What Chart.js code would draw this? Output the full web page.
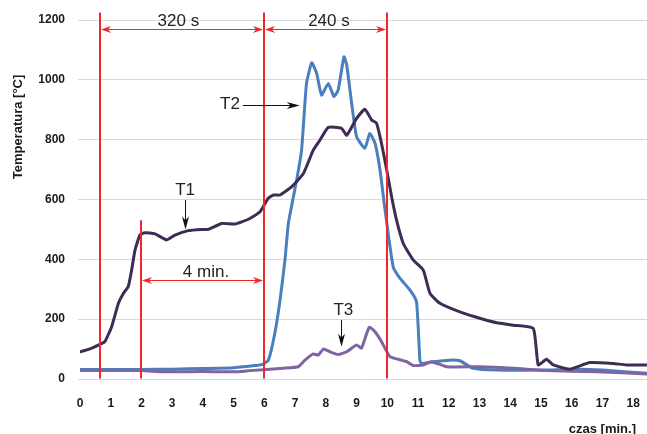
<!DOCTYPE html>
<html><head><meta charset="utf-8">
<script src="https://cdn.jsdelivr.net/npm/chart.js@4"></script>
<style>html,body{margin:0;padding:0;background:#fff;overflow:hidden}</style>
</head><body>
<canvas id="c" width="647" height="434"></canvas>
<script>
// ---- data (time in minutes, temperature in °C) ----
const t1Time = [0,0.3,0.65,0.81,1.03,1.25,1.41,1.57,1.68,1.79,1.95,2.11,2.44,2.82,3.09,3.52,3.96,4.17,4.61,5.04,5.48,5.86,6.13,6.3,6.51,6.89,7.27,7.59,7.81,8.08,8.51,8.68,9.0,9.27,9.49,9.65,9.81,9.98,10.14,10.3,10.52,10.84,11.17,11.39,11.71,12.47,13.01,13.56,14.1,14.75,14.91,15.18,15.4,15.94,16.59,17.35,17.78,18.45];
const t1Temp = [91,100,116,125,175,253,286,309,364,431,481,489,485,465,481,496,500,500,520,518,534,559,605,615,615,643,687,765,799,841,838,815,871,902,866,855,788,699,609,531,453,398,364,286,253,220,203,188,180,169,47,66,47,33,55,52,47,47];

const t2Time = [0,2,3,4,5,5.7,5.96,6.13,6.34,6.51,6.67,6.78,7.05,7.21,7.37,7.54,7.7,7.86,8.08,8.26,8.4,8.59,8.68,8.84,9.0,9.27,9.43,9.6,9.76,9.92,10.19,10.41,10.74,10.95,11.06,11.11,11.49,12.04,12.36,12.79,13.56,15,16.27,17,18.45];
const t2Temp = [32,32,33,35,38,45,50,63,153,264,398,520,665,765,988,1057,1022,949,988,944,966,1077,1049,921,810,771,821,788,700,570,375,337,297,258,63,52,58,63,61,36,30,30,33,30,19];

const t3Time = [0,2,2.7,4,5,5.53,6.61,7.1,7.32,7.59,7.75,7.92,8.13,8.4,8.68,9.0,9.16,9.41,9.6,9.81,10.08,10.35,10.63,10.84,11.17,11.44,11.93,13.0,14.1,15.18,16.8,18.45];
const t3Temp = [28,28,24,25,24,28,36,41,63,84,80,100,91,82,91,114,103,173,158,125,75,66,58,45,47,58,41,41,36,28,24,17];

const seriesNames = ['T1','T2','T3'];
const yTickValues = [0,200,400,600,800,1000,1200];
const xTickValues = [0,1,2,3,4,5,6,7,8,9,10,11,12,13,14,15,16,17,18];
const markerTimes = [0.667, 2, 6, 10];          // red vertical lines (min)
const intervalTexts = ['320 s', '240 s', '4 min.'];
const xTitle = 'czas [min.]';
const yTitle = 'Temperatura [°C]';

const pts = (xs, ys) => xs.map((x, i) => ({x, y: ys[i]}));

const RED = '#f0282a';
const FONT = '"Liberation Sans", Arial, sans-serif';

function arrowHead(ctx, x, y, ang, len, w) {
  ctx.save();
  ctx.translate(x, y); ctx.rotate(ang);
  ctx.beginPath();
  ctx.moveTo(0, 0);
  ctx.lineTo(-len, -w / 2);
  ctx.lineTo(-len * 0.7, 0);
  ctx.lineTo(-len, w / 2);
  ctx.closePath();
  ctx.fill();
  ctx.restore();
}

const annot = {
  id: 'annot',
  afterDatasetsDraw(chart) {
    const {ctx, scales: {x, y}} = chart;
    const X = v => x.getPixelForValue(v), Y = v => y.getPixelForValue(v);
    ctx.save();
    // red vertical lines
    ctx.strokeStyle = RED; ctx.fillStyle = RED; ctx.lineWidth = 2;
    const tops = [1225, 531, 1225, 1225];
    markerTimes.forEach((t, i) => {
      const px = Math.round(X(t));
      ctx.beginPath(); ctx.moveTo(px, Y(2)); ctx.lineTo(px, Y(tops[i])); ctx.stroke();
    });
    // double arrows
    ctx.lineWidth = 1;
    const dbl = (a, b, v) => {
      const x1 = Math.round(X(a)) + 1, x2 = Math.round(X(b)) - 1, py = Math.round(Y(v)) + 0.5;
      ctx.beginPath(); ctx.moveTo(x1 + 4, py); ctx.lineTo(x2 - 4, py); ctx.stroke();
      arrowHead(ctx, x1, py, Math.PI, 10, 7);
      arrowHead(ctx, x2, py, 0, 10, 7);
    };
    dbl(markerTimes[0], markerTimes[2], 1169);
    dbl(markerTimes[2], markerTimes[3], 1169);
    dbl(markerTimes[1], markerTimes[2], 331);
    // interval texts
    ctx.fillStyle = '#222';
    ctx.font = '17px ' + FONT;
    ctx.textAlign = 'center'; ctx.textBaseline = 'middle';
    ctx.fillText(intervalTexts[0], X(3.2), Y(1197));
    ctx.fillText(intervalTexts[1], X(8.1), Y(1197));
    ctx.fillText(intervalTexts[2], X(4.1), Y(358));
    // series labels with black arrows
    ctx.fillText(seriesNames[0], X(3.42), Y(630));
    ctx.fillText(seriesNames[1], X(4.88), Y(918));
    ctx.fillText(seriesNames[2], X(8.57), Y(230));
    ctx.strokeStyle = '#111'; ctx.fillStyle = '#111'; ctx.lineWidth = 1;
    // T1 arrow (down)
    let ax = Math.round(X(3.42)) + 0.5;
    ctx.beginPath(); ctx.moveTo(ax, Y(598)); ctx.lineTo(ax, Y(520)); ctx.stroke();
    arrowHead(ctx, ax, Y(500), Math.PI / 2, 13, 7);
    // T2 arrow (right)
    let ay = Math.round(Y(915)) + 0.5;
    ctx.beginPath(); ctx.moveTo(X(5.3), ay); ctx.lineTo(X(7.1), ay); ctx.stroke();
    arrowHead(ctx, X(7.15), ay, 0, 13, 7);
    // T3 arrow (down)
    ax = Math.round(X(8.5)) + 0.5;
    ctx.beginPath(); ctx.moveTo(ax, Y(197)); ctx.lineTo(ax, Y(125)); ctx.stroke();
    arrowHead(ctx, ax, Y(108), Math.PI / 2, 13, 7);
    // axis titles
    ctx.fillStyle = '#1a1a1a';
    ctx.font = 'bold 13px ' + FONT;
    ctx.textAlign = 'right'; ctx.textBaseline = 'middle';
    ctx.fillText(xTitle, 636, 429);
    ctx.translate(18, 127); ctx.rotate(-Math.PI / 2);
    ctx.textAlign = 'center';
    ctx.fillText(yTitle, 0, 0);
    ctx.restore();
  }
};

new Chart(document.getElementById('c'), {
  type: 'line',
  data: {
    datasets: [
      {label: seriesNames[0], data: pts(t1Time, t1Temp), borderColor: '#3f2c55', order: 0},
      {label: seriesNames[2], data: pts(t3Time, t3Temp), borderColor: '#8063a3', order: 1},
      {label: seriesNames[1], data: pts(t2Time, t2Temp), borderColor: '#4a7fbd', order: 2}
    ]
  },
  options: {
    responsive: false,
    animation: false,
    layout: {padding: {top: 20, right: 0, left: 0, bottom: 0}},
    elements: {
      point: {radius: 0},
      line: {borderWidth: 3, tension: 0.15, fill: false, borderJoinStyle: 'round', borderCapStyle: 'round'}
    },
    plugins: {legend: {display: false}, tooltip: {enabled: false}},
    scales: {
      x: {
        type: 'linear', min: 0, max: 18.45,
        afterBuildTicks: s => { s.ticks = xTickValues.map(v => ({value: v})); },
        afterFit: s => { s.height = 55; s.paddingLeft = 0; s.paddingRight = 0; },
        grid: {display: false, drawTicks: false},
        border: {display: false},
        ticks: {padding: 17, color: '#1a1a1a', font: {family: FONT, size: 12, weight: 'bold'}, maxRotation: 0, callback: v => String(v)}
      },
      y: {
        min: 0, max: 1200,
        afterBuildTicks: s => { s.ticks = yTickValues.map(v => ({value: v})); },
        afterFit: s => { s.width = 80; s.paddingTop = 0; s.paddingBottom = 0; },
        grid: {color: '#d9d9d9', lineWidth: 1, drawTicks: true, tickLength: 2},
        border: {display: false},
        ticks: {padding: 13, color: '#1a1a1a', font: {family: FONT, size: 12, weight: 'bold'}, callback: v => String(v)}
      }
    }
  },
  plugins: [annot]
});
</script>
</body></html>
